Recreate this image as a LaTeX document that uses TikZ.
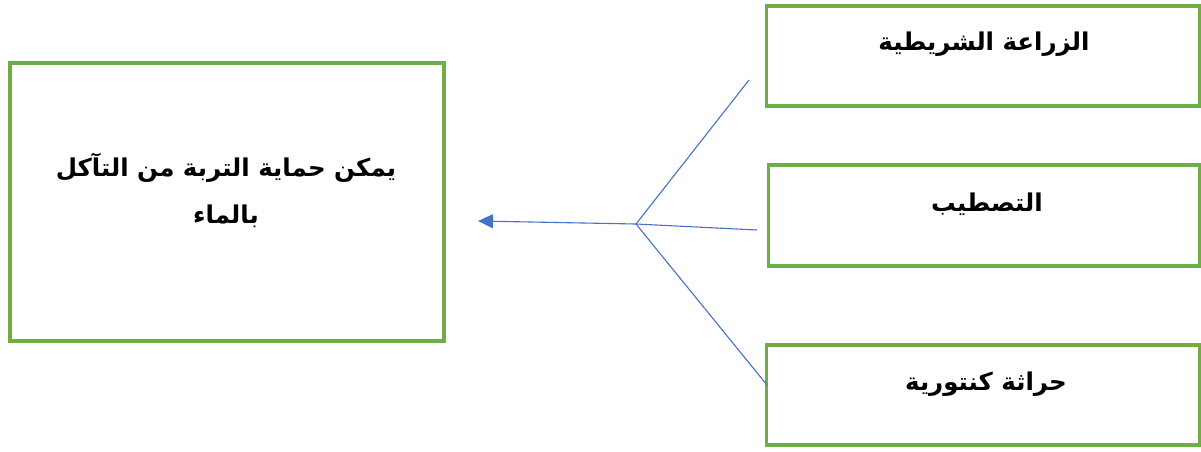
\documentclass[tikz,border=0pt]{standalone}
\usepackage{fontspec}
\TeXXeTstate=1
\newfontfamily\arabicfont[Script=Arabic]{DejaVu Sans}
\usetikzlibrary{arrows.meta}
\definecolor{boxgreen}{HTML}{70AD47}
\definecolor{linkblue}{HTML}{4472C4}
\begin{document}
\begin{tikzpicture}[x=1pt,y=-1pt,
  box/.style={draw=boxgreen, line width=3.2pt, rectangle, inner sep=0pt},
  lbl/.style={font=\arabicfont\bfseries\fontsize{24.5}{47}\selectfont, align=center, inner sep=0pt},
  link/.style={draw=linkblue, line width=1.1pt}]
\useasboundingbox (0,0) rectangle (1201,451);
\node[box, minimum width=434pt, minimum height=278pt] (main) at (227,202) {};
\node[box, minimum width=433pt, minimum height=100pt] (b1) at (983,56) {};
\node[box, minimum width=431pt, minimum height=101pt] (b2) at (984,215.5) {};
\node[box, minimum width=433pt, minimum height=100pt] (b3) at (983,395) {};
\node[lbl] (tmain) at (226,190) {\beginR يمكن حماية التربة من التآكل\endR\\ \beginR بالماء\endR};
\node[lbl] (t1) at (984,44) {\beginR الزراعة الشريطية\endR};
\node[lbl] (t2) at (987,204) {\beginR التصطيب\endR};
\node[lbl] (t3) at (986,384) {\beginR حراثة كنتورية\endR};
\coordinate (j) at (636,224);
\coordinate (e1) at (749,80);
\coordinate (e2) at (757,230);
\coordinate (e3) at (767,385);
\coordinate (a) at (478,221);
\draw[link] (j) -- (e1);
\draw[link] (j) -- (e2);
\draw[link] (j) -- (e3);
\draw[link, -{Triangle[length=15pt, width=14pt]}] (j) -- (a);
\end{tikzpicture}
\end{document}
